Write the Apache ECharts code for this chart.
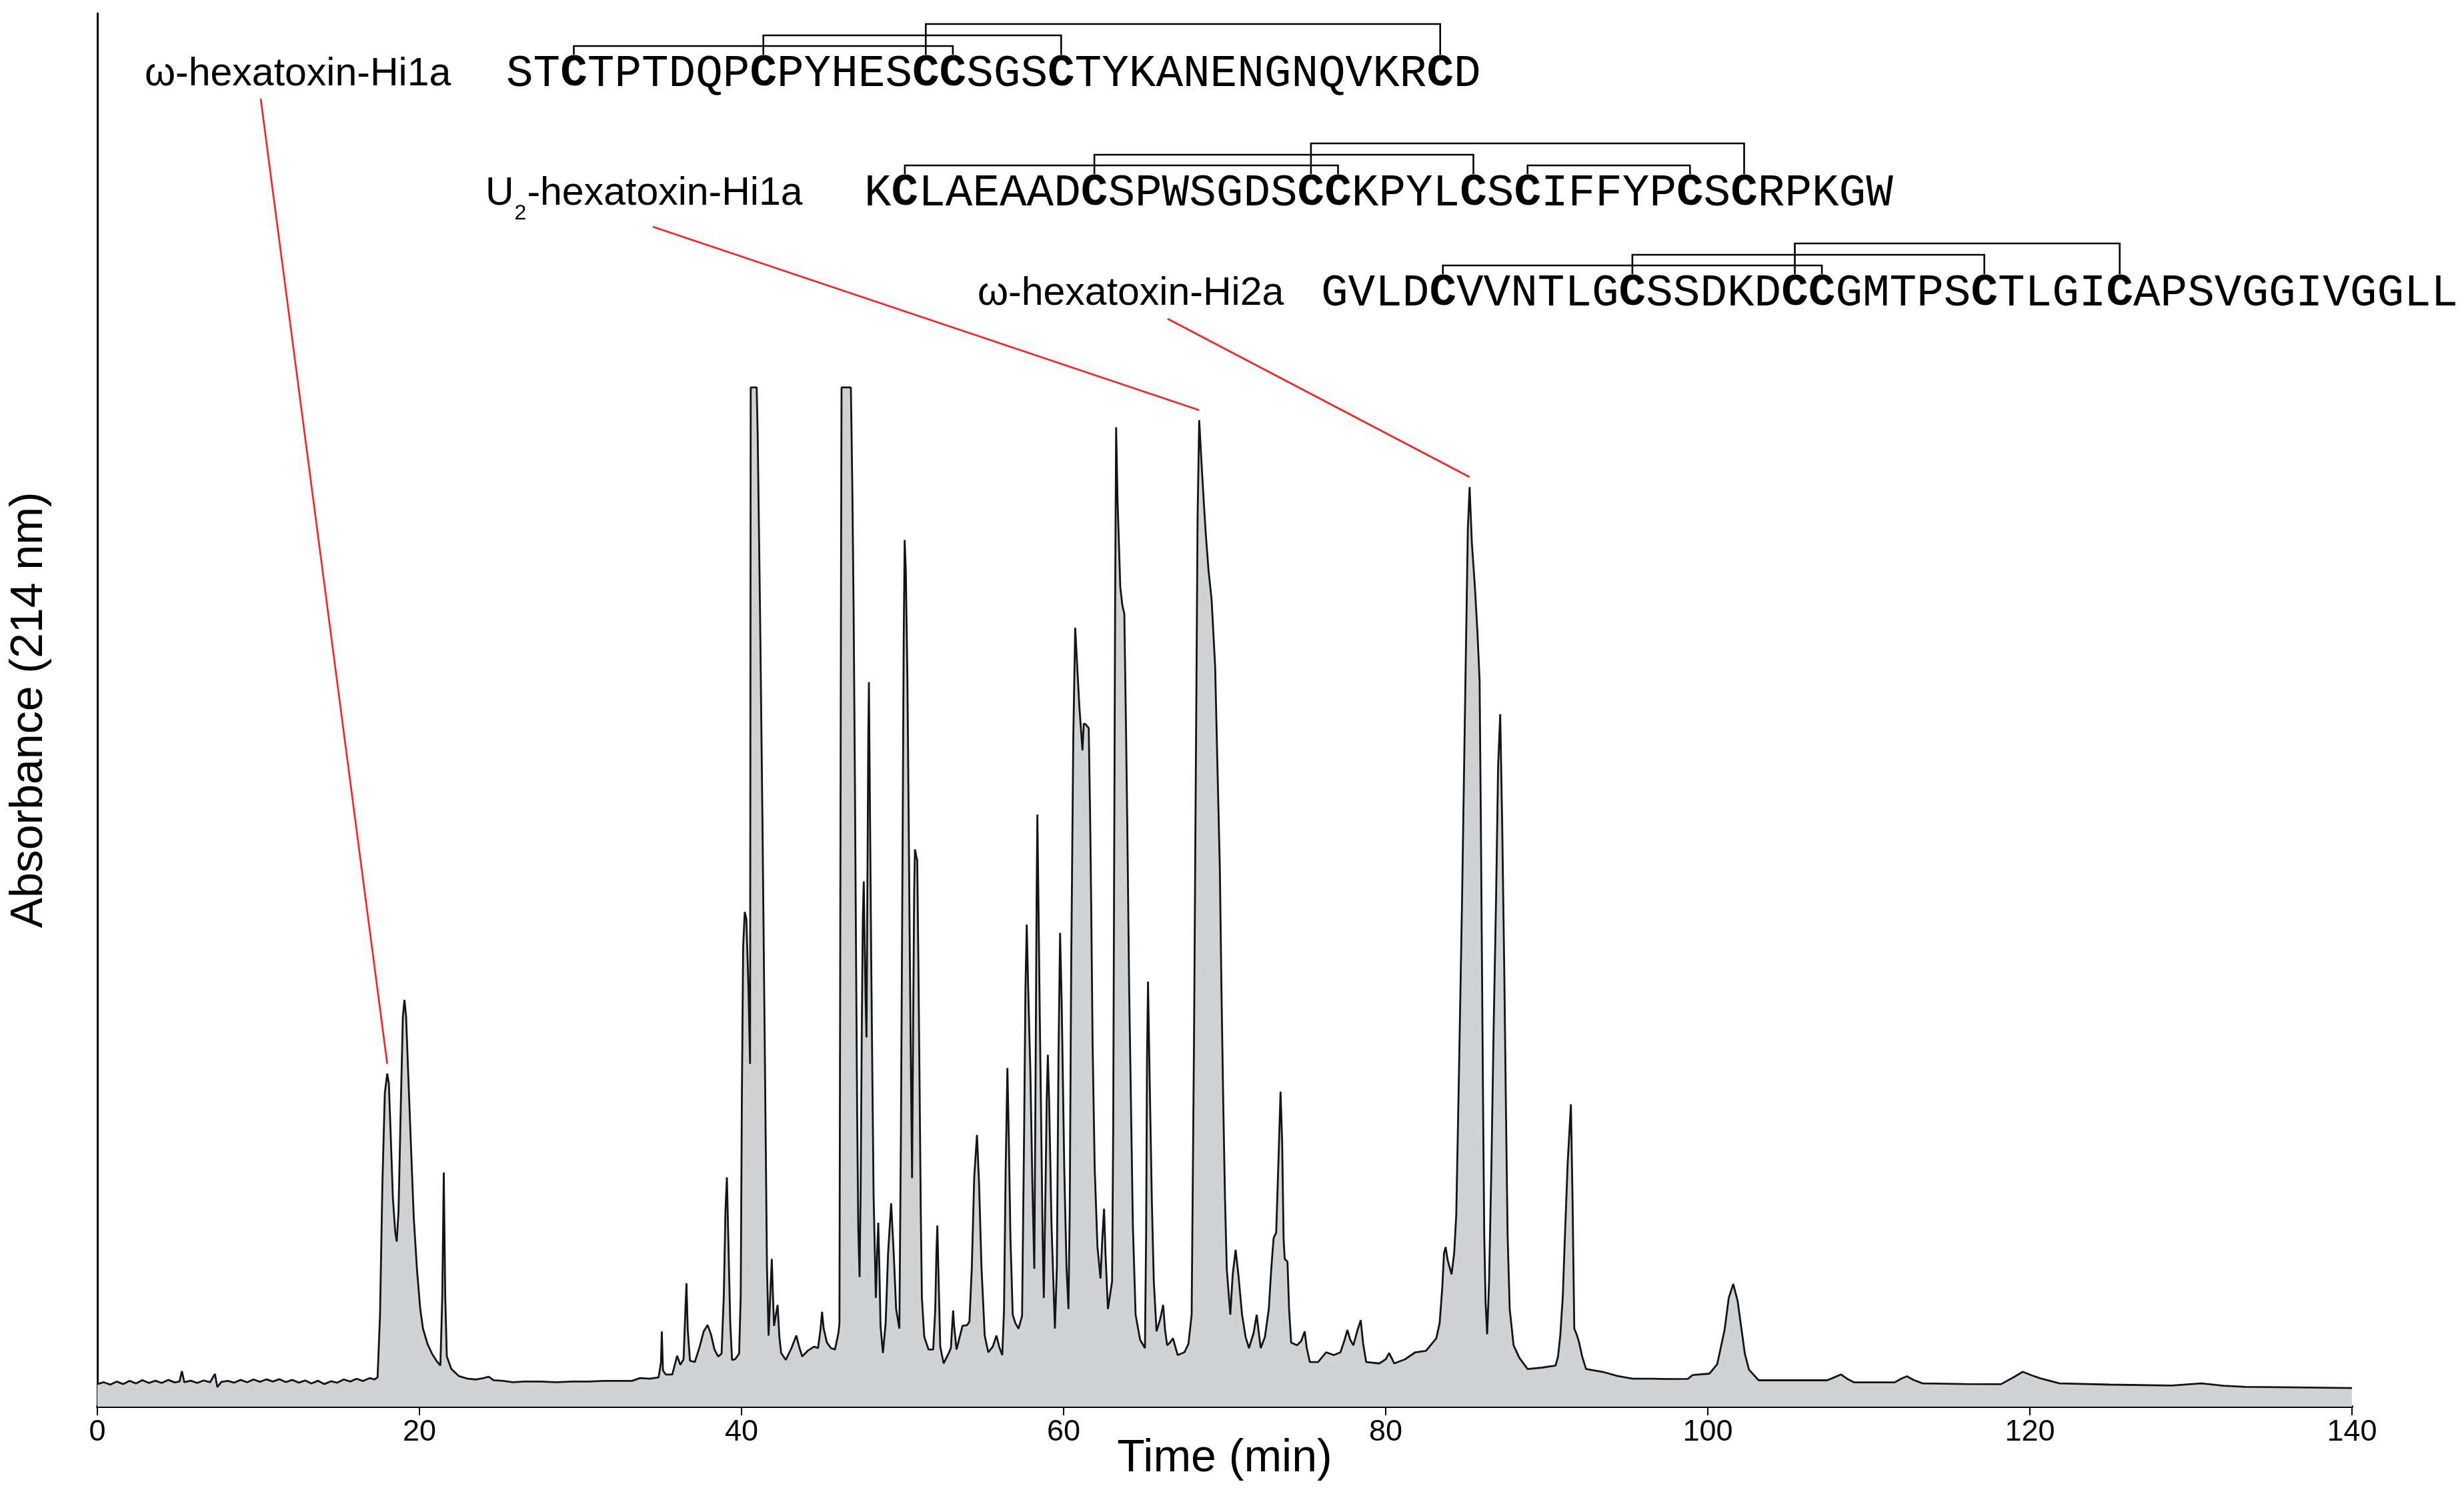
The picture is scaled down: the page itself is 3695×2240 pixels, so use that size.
<!DOCTYPE html>
<html><head><meta charset="utf-8">
<script src="https://cdn.jsdelivr.net/npm/echarts@6/dist/echarts.min.js"></script>
<style>html,body{margin:0;padding:0;background:#fff}#c{width:3695px;height:2240px}</style>
</head><body><div id="c"></div>
<script>
// ---------- DATA ----------
const xTicks = [0, 20, 40, 60, 80, 100, 120, 140];

// chromatogram trace, [time (min), absorbance (arbitrary units, 0-100 full axis)]
const traceBaselineEarly = [[0,1.62],[0.4,1.75],[0.8,1.58],[1.2,1.8],[1.6,1.62],[2.0,1.85],[2.4,1.66],[2.8,1.9],[3.2,1.7],[3.6,1.86],[4.0,1.7],[4.4,1.92],[4.8,1.74],[5.1,1.8],[5.25,2.55],[5.4,1.75],[5.8,1.86],[6.2,1.7],[6.6,1.88],[7.0,1.75],[7.3,2.35],[7.45,1.4],[7.7,1.78],[8.1,1.85],[8.5,1.72],[8.9,1.92],[9.3,1.75],[9.7,1.95],[10.1,1.78],[10.5,1.96],[10.9,1.8],[11.3,1.97],[11.7,1.76],[12.1,1.92],[12.5,1.72],[12.9,1.88],[13.3,1.66],[13.7,1.86],[14.1,1.62],[14.5,1.82],[14.9,1.72],[15.3,1.95],[15.7,1.8],[16.1,2.0],[16.5,1.84],[16.9,2.05],[17.2,1.95],[17.4,2.1]];
const traceHi1aRegion = [[17.55,6.5],[17.7,16],[17.85,22.5],[18.0,23.9],[18.1,23.2],[18.2,20],[18.35,15],[18.5,12.5],[18.59,11.85],[18.7,14],[18.85,22],[18.97,28],[19.07,29.2],[19.17,28],[19.3,24],[19.48,18.5],[19.65,13.5],[19.85,9.8],[20.05,7.0],[20.22,5.6],[20.5,4.5],[20.78,3.8],[21.05,3.3],[21.3,2.95],[21.42,8],[21.51,16.8],[21.6,8],[21.7,3.6],[21.98,2.7],[22.44,2.2],[23.0,2.0],[23.5,1.95],[24.0,2.05],[24.3,2.15],[24.6,1.9],[25.2,1.85],[25.8,1.75],[26.5,1.8],[27.5,1.8],[28.5,1.75],[29.5,1.8],[30.5,1.8],[31.5,1.85],[32.5,1.85],[33.2,1.85],[33.7,2.05],[34.3,2.0],[34.85,2.1]];
const traceEarlyCluster = [[35.0,3.2],[35.05,5.4],[35.12,2.6],[35.3,2.3],[35.7,2.3],[36.0,3.65],[36.2,3.0],[36.4,3.4],[36.5,6.5],[36.58,8.85],[36.66,5.5],[36.8,3.3],[37.1,3.2],[37.4,4.3],[37.65,5.4],[37.89,5.85],[38.1,5.2],[38.32,4.1],[38.55,3.6],[38.76,3.8],[38.9,8],[39.0,14],[39.09,16.45],[39.18,12],[39.3,6],[39.41,3.35],[39.6,3.4],[39.85,3.8],[39.95,8],[40.02,22],[40.1,33],[40.2,35.5],[40.3,35],[40.43,30],[40.53,24.6],[40.57,73.15],[40.94,73.15],[41.0,70],[41.15,57],[41.3,42],[41.45,25],[41.58,10],[41.68,5.1],[41.8,8.5],[41.88,10.6],[41.95,8],[42.02,5.8],[42.12,6.5],[42.24,7.3],[42.35,5],[42.46,3.85],[42.75,3.35],[43.1,4.2],[43.4,5.1],[43.6,4.2],[43.77,3.6],[44.1,4.0],[44.5,4.3],[44.75,4.2],[44.9,5.5],[45.0,6.8],[45.1,5.6],[45.3,4.6],[45.55,4.2],[45.8,4.1],[46.02,5.3],[46.08,6],[46.18,60],[46.21,73.15],[46.79,73.15]];
const traceMidCluster = [[46.88,66],[46.96,57.2],[47.04,45],[47.11,32.5],[47.18,21],[47.25,12.7],[47.33,9.3],[47.4,16],[47.47,27.6],[47.53,35],[47.59,37.7],[47.65,33],[47.7,29.5],[47.76,26.5],[47.82,38],[47.87,48],[47.91,52],[47.96,45],[48.05,32.5],[48.13,23],[48.2,15.2],[48.34,7.8],[48.42,11],[48.49,13.2],[48.56,10],[48.63,5.8],[48.78,3.85],[48.95,6],[49.1,11],[49.29,14.6],[49.45,11],[49.6,7],[49.8,5.6],[49.9,20],[50.0,40],[50.07,55],[50.13,62.2],[50.2,60],[50.3,52.3],[50.38,42],[50.45,32.5],[50.52,24],[50.59,16.4],[50.66,28],[50.72,37],[50.77,40],[50.85,39.5],[50.91,39.2],[50.98,32],[51.06,22.6],[51.13,14],[51.2,7.8],[51.35,5],[51.61,4.1],[51.9,4.1],[52.03,7],[52.1,11],[52.16,13],[52.22,10],[52.34,4.3],[52.55,3.1],[52.85,3.8],[53.0,4.2],[53.08,5.8],[53.14,6.9],[53.2,5.8],[53.35,4.1],[53.72,5.8],[54.01,5.85],[54.15,6.1]];
const traceLateCluster = [[54.3,10],[54.45,16.5],[54.62,19.5],[54.75,16],[54.9,10],[55.1,5.1],[55.32,3.9],[55.6,4.3],[55.83,5.1],[56.0,4.3],[56.19,3.7],[56.3,7],[56.4,17],[56.51,24.3],[56.6,19],[56.7,12],[56.84,6.6],[57.0,6.0],[57.2,5.6],[57.42,6.5],[57.55,20],[57.63,30],[57.71,34.6],[57.8,30],[57.93,24.3],[58.06,16],[58.18,9.9],[58.25,22],[58.32,36],[58.37,42.5],[58.45,35],[58.52,28],[58.59,21.9],[58.7,12],[58.77,7.8],[58.88,16],[58.95,22],[59.02,25.25],[59.1,22],[59.25,13],[59.46,5.6],[59.58,10],[59.68,25],[59.78,34],[59.88,29],[60.04,17.1],[60.18,10],[60.3,7.0],[60.38,14],[60.47,31.5],[60.6,48],[60.72,55.9],[60.85,53],[60.98,50.2],[61.17,47.1],[61.25,49],[61.34,49],[61.56,48.7],[61.65,42],[61.71,36.3],[61.8,26],[61.93,17.1],[62.1,11.5],[62.29,9.2],[62.4,12],[62.51,14.2],[62.6,11],[62.75,7.0],[63.01,9],[63.08,20],[63.13,36.3],[63.2,58],[63.26,70.3],[63.35,65],[63.52,58.8],[63.65,57.5],[63.77,56.9],[63.87,49],[63.96,41.1],[64.07,30],[64.18,21.9],[64.3,13],[64.47,6.6],[64.75,4.8],[65.05,4.2],[65.12,12],[65.18,25],[65.24,30.5],[65.35,23],[65.48,14.7],[65.6,9],[65.77,5.4],[66.0,6.3],[66.18,7.3],[66.3,5.5],[66.43,4.4],[66.6,4.6],[66.79,4.9],[67.08,3.7],[67.5,3.9],[67.75,4.5],[67.95,6.6],[68.05,20],[68.1,26.7],[68.2,44],[68.32,64],[68.42,70.8],[68.55,68],[68.7,65],[68.83,62.6],[69.0,60],[69.19,57.9],[69.3,55.5],[69.41,53.1],[69.55,46],[69.7,38.7],[69.8,30],[69.91,21.9],[70.02,15],[70.13,9.9],[70.35,6.6],[70.5,9.5],[70.68,11.25],[70.85,9.5],[71.08,6.6],[71.3,5],[71.51,4.2],[71.8,5.3],[71.99,6.6],[72.1,5.5],[72.24,4.2],[72.5,5],[72.74,7.0],[72.9,10],[73.04,12.1],[73.2,12.5],[73.35,18],[73.47,22.6],[73.57,19],[73.66,12],[73.73,10.6],[73.9,10.4],[74.0,7],[74.13,4.6],[74.49,4.4],[74.75,4.7],[74.97,5.4],[75.1,4.2],[75.29,3.2],[75.8,3.2],[76.3,3.9],[76.78,3.7]];
const traceHi2aRegion = [[77.19,3.9],[77.45,4.8],[77.62,5.5],[77.8,4.8],[77.99,4.4],[78.25,5.5],[78.45,6.2],[78.6,4.5],[78.79,3.2],[79.6,3.1],[80.0,3.4],[80.21,3.85],[80.53,3.1],[81.2,3.4],[81.84,3.9],[82.5,4.0],[83.14,4.9],[83.35,6],[83.51,8.5],[83.62,11],[83.72,11.45],[83.85,10.5],[84.09,9.5],[84.25,11],[84.38,13.75],[84.55,24],[84.74,36.3],[84.95,52],[85.1,63],[85.21,66.0],[85.35,62],[85.54,58.8],[85.7,55.5],[85.83,52.1],[85.9,43],[85.98,31.5],[86.05,21],[86.12,12.3],[86.2,7.5],[86.3,5.2],[86.42,9],[86.56,17.1],[86.7,27],[86.85,36.3],[86.98,46],[87.11,49.7],[87.23,42],[87.36,31.5],[87.47,21],[87.57,12.3],[87.7,7],[87.94,4.4],[88.3,3.5],[88.81,2.7],[89.7,2.8],[90.55,2.95],[90.7,3.6],[90.84,5.1],[91.0,8],[91.13,12.3],[91.3,17.5],[91.5,21.7],[91.6,15],[91.71,5.6],[91.85,5.2],[92.0,4.65],[92.2,3.6],[92.44,2.7],[93.46,2.5],[94.4,2.2],[95.34,2.0],[96.5,2.0],[97.5,1.98]];
const traceTail = [[98.76,1.99],[99.06,2.27],[100.1,2.37],[100.58,3.03],[101.04,5.49],[101.3,7.8],[101.58,8.8],[101.85,7.6],[102.1,5.49],[102.3,3.8],[102.56,2.65],[103.16,1.89],[105,1.9],[107.42,1.89],[107.85,2.1],[108.27,2.31],[108.65,2.0],[109.09,1.74],[111.6,1.74],[112.0,2.0],[112.36,2.18],[112.8,1.9],[113.34,1.67],[116,1.62],[118.2,1.61],[118.95,2.08],[119.56,2.5],[120.1,2.25],[120.62,2.04],[121.84,1.67],[125,1.58],[128.8,1.51],[130.65,1.67],[132,1.5],[133.38,1.42],[136.5,1.38],[140,1.33]];

// annotations
const toxinNames = ['ω-hexatoxin-Hi1a', 'U|2|-hexatoxin-Hi1a', 'ω-hexatoxin-Hi2a'];
const sequences = [
  'STCTPTDQPCPYHESCCSGSCTYKANENGNQVKRCD',
  'KCLAEAADCSPWSGDSCCKPYLCSCIFFYPCSCRPKGW',
  'GVLDCVVNTLGCSSDKDCCGMTPSCTLGICAPSVGGIVGGLL'
];
const disulfidePairs = [
  [[2,16],[9,20],[15,34]],
  [[1,17],[8,22],[16,32],[24,30]],
  [[4,18],[11,24],[17,29]]
];
const bridgeLevels = [[0,1,2],[0,1,2,0],[0,1,2]];
const peakTimes = [18.0, 68.42, 85.21];
const peakValues = [23.9, 70.8, 66.0];

// ---------- LAYOUT (pixels) ----------
const L = {
  labelX: [217, 728, 1466],
  seqX: [759, 1296, 1981],
  baseY: [131, 310, 460],
  leaderStart: [[391,148],[979,340],[1751,478]],
  leaderGap: 15,
  charW: 40.6, seqFont: 67.7, labelFont: 59, subFont: 32,
  levelOff: [62, 78, 95], tickOff: 49
};

const chromatogram = [].concat(traceBaselineEarly, traceHi1aRegion, traceEarlyCluster,
  traceMidCluster, traceLateCluster, traceHi2aRegion, traceTail);

const SANS = 'Liberation Sans';
const MONO = 'Liberation Mono';

const chart = echarts.init(document.getElementById('c'), null, {width: 3695, height: 2240});
chart.setOption({
  animation: false,
  backgroundColor: '#fff',
  grid: {left: 146, right: 168, top: 20, bottom: 131, containLabel: false, outerBoundsMode: 'none'},
  xAxis: {
    type: 'value', min: xTicks[0], max: xTicks[xTicks.length-1], interval: xTicks[1]-xTicks[0],
    axisLine: {show: true, onZero: false, lineStyle: {color: '#000', width: 4}},
    axisTick: {show: true, length: 13, lineStyle: {color: '#000', width: 2}},
    axisLabel: {fontSize: 45, color: '#000', fontFamily: SANS, margin: 16},
    splitLine: {show: false},
    name: 'Time (min)', nameLocation: 'middle', nameGap: 44, nameMoveOverlap: false,
    nameTextStyle: {fontSize: 68, color: '#000', fontFamily: SANS}
  },
  yAxis: {
    type: 'value', min: 0, max: 100,
    axisLine: {show: true, lineStyle: {color: '#000', width: 3}},
    axisTick: {show: false}, axisLabel: {show: false}, splitLine: {show: false},
    name: 'Absorbance (214 nm)', nameLocation: 'middle', nameGap: 68, nameMoveOverlap: false,
    nameTextStyle: {fontSize: 68, color: '#000', fontFamily: SANS}
  },
  series: [{
    type: 'line', data: chromatogram, symbol: 'none', showSymbol: false, smooth: false,
    lineStyle: {color: '#141414', width: 2.8},
    areaStyle: {color: '#d1d2d4', opacity: 1},
    silent: true, clip: true
  }]
});

// ---------- ANNOTATIONS ----------
const ctx = document.createElement('canvas').getContext('2d');
function tw(txt, size, fam, weight){ ctx.font = (weight||'normal') + ' ' + size + 'px "' + fam + '"'; return ctx.measureText(txt).width; }
const g = [];
function txt(x, y, s, size, fam, weight, align){
  g.push({type:'text', x:x, y:y, silent:true, z:100,
    style:{text:s, fontSize:size, fontFamily:fam, fontWeight:weight||'normal', fill:'#000',
      align: align||'left', verticalAlign:'middle'}});
}
for (let i = 0; i < sequences.length; i++) {
  const base = L.baseY[i];
  // label
  const lblY = base - 0.33 * L.labelFont;
  const parts = toxinNames[i].split('|');
  if (parts.length === 3) {
    let x = L.labelX[i];
    txt(x, lblY, parts[0], L.labelFont, SANS);
    x += tw(parts[0], L.labelFont, SANS);
    txt(x + 1, base + 10, parts[1], L.subFont, SANS);
    x += tw(parts[1], L.subFont, SANS) + 2;
    txt(x, lblY, parts[2], L.labelFont, SANS);
  } else {
    txt(L.labelX[i], lblY, parts[0], L.labelFont, SANS);
  }
  // sequence, char by char
  const seq = sequences[i];
  const seqY = base - 0.30 * L.seqFont;
  for (let k = 0; k < seq.length; k++) {
    const ch = seq[k];
    txt(L.seqX[i] + (k + 0.5) * L.charW, seqY, ch, L.seqFont, MONO, ch === 'C' ? 'bold' : 'normal', 'center');
  }
  // disulfide brackets
  disulfidePairs[i].forEach((p, j) => {
    const xa = L.seqX[i] + (p[0] + 0.5) * L.charW;
    const xb = L.seqX[i] + (p[1] + 0.5) * L.charW;
    const yl = base - L.levelOff[bridgeLevels[i][j]];
    const yt = base - L.tickOff;
    g.push({type:'polyline', silent:true, z:90,
      shape:{points:[[xa,yt],[xa,yl],[xb,yl],[xb,yt]]},
      style:{stroke:'#000', lineWidth:2.6, fill:null}});
  });
  // red leader line to peak
  const pk = chart.convertToPixel({gridIndex:0}, [peakTimes[i], peakValues[i]]);
  g.push({type:'line', silent:true, z:95,
    shape:{x1:L.leaderStart[i][0], y1:L.leaderStart[i][1], x2:pk[0], y2:pk[1]-L.leaderGap},
    style:{stroke:'#ff1f1f', lineWidth:2.6}});
}
chart.setOption({graphic: {elements: g}});
</script>
</body></html>
